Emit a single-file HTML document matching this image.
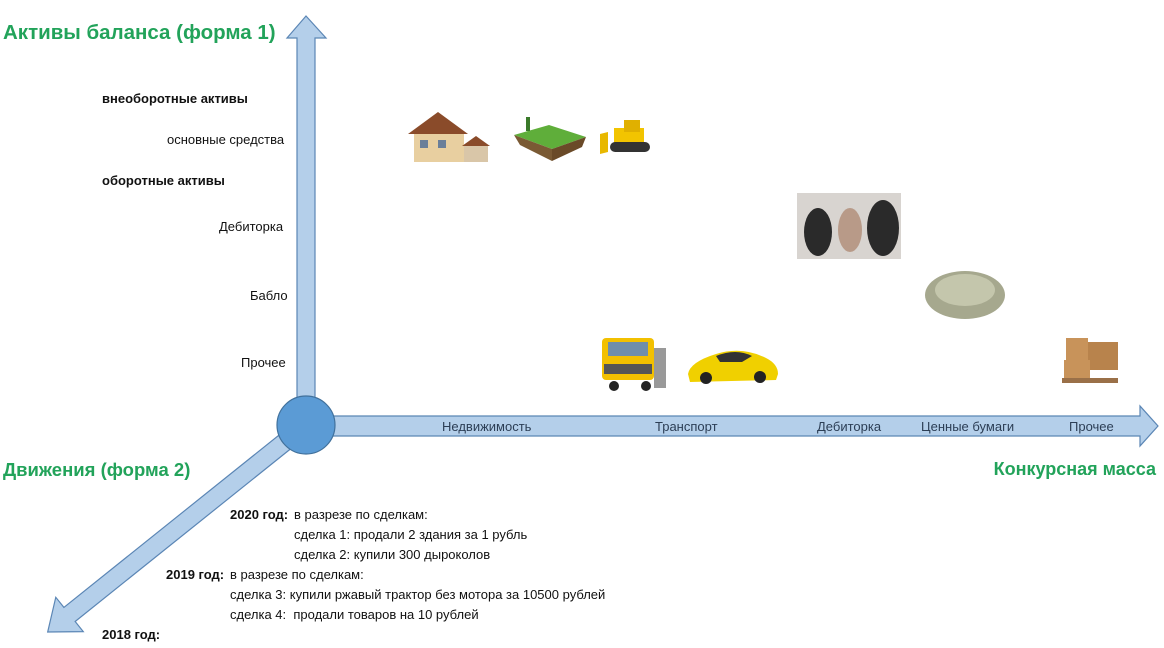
<!DOCTYPE html>
<html><head><meta charset="utf-8"><style>
html,body{margin:0;padding:0;background:#fff;}
body{width:1164px;height:648px;position:relative;overflow:hidden;font-family:"Liberation Sans","DejaVu Sans",sans-serif;}
.t{position:absolute;white-space:nowrap;font-size:13px;color:#111;}
.b{font-weight:bold;}
.g{position:absolute;white-space:nowrap;font-weight:bold;font-size:20px;color:#22a35a;}
.ax{position:absolute;white-space:nowrap;font-size:13px;color:#2c3e55;}
</style></head><body>
<svg width="1164" height="648" style="position:absolute;left:0;top:0">
<g fill="#b4cfea" stroke="#5b86b5" stroke-width="1.2">
<polygon points="297,420 297,38 287,38 306,16 326,38 315,38 315,420"/>
<polygon points="320,416 1140,416 1140,406 1158,426 1140,446 1140,436 320,436"/>
<g transform="translate(306,425) rotate(141.3)">
<polygon points="0,-9 303,-9 303,-22 331,0 303,22 303,9 0,9"/>
</g>
</g>
<circle cx="306" cy="425" r="29" fill="#5b9bd5" stroke="#41719c" stroke-width="1.2"/>
<g transform="translate(408,112)">
<polygon points="0,22 30,0 60,22" fill="#8a4b2a"/>
<rect x="6" y="22" width="50" height="28" fill="#e8cfa0"/>
<rect x="12" y="28" width="8" height="8" fill="#6a7f99"/><rect x="30" y="28" width="8" height="8" fill="#6a7f99"/>
<rect x="56" y="34" width="24" height="16" fill="#d9c6a8"/><polygon points="54,34 68,24 82,34" fill="#8a4b2a"/>
</g>
<g transform="translate(514,115)">
<polygon points="0,20 35,10 72,22 38,34" fill="#5fae3a"/>
<polygon points="0,20 38,34 38,46 6,30" fill="#7a5a34"/><polygon points="38,34 72,22 68,32 38,46" fill="#6a4a28"/>
<rect x="12" y="2" width="4" height="14" fill="#3a7a2a"/>
</g>
<g transform="translate(600,118)">
<rect x="14" y="10" width="30" height="16" fill="#f2c400"/><rect x="24" y="2" width="16" height="12" fill="#e0b000"/>
<rect x="10" y="24" width="40" height="10" rx="5" fill="#333"/>
<polygon points="0,16 8,14 8,34 0,36" fill="#e8b800"/>
</g>
<rect x="797" y="193" width="104" height="66" fill="#d8d4d0"/>
<ellipse cx="818" cy="232" rx="14" ry="24" fill="#2a2a2a"/><ellipse cx="883" cy="228" rx="16" ry="28" fill="#2a2a2a"/>
<ellipse cx="850" cy="230" rx="12" ry="22" fill="#b89a88"/>
<ellipse cx="965" cy="295" rx="40" ry="24" fill="#a6a88e"/><ellipse cx="965" cy="290" rx="30" ry="16" fill="#c4c6ac"/>
<rect x="1066" y="338" width="22" height="22" fill="#c8935a"/><rect x="1088" y="342" width="30" height="28" fill="#b8834c"/>
<rect x="1064" y="360" width="26" height="18" fill="#c8935a"/><rect x="1062" y="378" width="56" height="5" fill="#9a7048"/>
<g transform="translate(600,334)">
<rect x="2" y="4" width="52" height="42" rx="4" fill="#f2c000"/><rect x="8" y="8" width="40" height="14" fill="#6f8eaa"/>
<rect x="4" y="30" width="48" height="10" fill="#555"/><rect x="54" y="14" width="12" height="40" fill="#999"/>
<circle cx="14" cy="52" r="5" fill="#222"/><circle cx="46" cy="52" r="5" fill="#222"/>
</g>
<g transform="translate(686,344)">
<path d="M2,30 Q4,18 30,10 Q56,2 80,14 Q92,20 92,30 L90,36 L4,38 Z" fill="#f0d000"/>
<path d="M30,12 Q50,4 66,12 L56,18 L34,18 Z" fill="#333"/>
<circle cx="20" cy="34" r="6" fill="#222"/><circle cx="74" cy="33" r="6" fill="#222"/>
</g>
</svg>
<div class="g" style="left:3px;top:21px;font-size:20.5px">Активы баланса (форма 1)</div>
<div class="g" style="left:3px;top:459px;font-size:18.5px">Движения (форма 2)</div>
<div class="g" style="right:8px;top:459px;font-size:18px">Конкурсная масса</div>
<div class="t b" style="left:102px;top:91px">внеоборотные активы</div>
<div class="t" style="left:167px;top:132px">основные средства</div>
<div class="t b" style="left:102px;top:173px">оборотные активы</div>
<div class="t" style="left:219px;top:219px">Дебиторка</div>
<div class="t" style="left:250px;top:288px">Бабло</div>
<div class="t" style="left:241px;top:355px">Прочее</div>
<div class="ax" style="left:442px;top:419px">Недвижимость</div>
<div class="ax" style="left:655px;top:419px">Транспорт</div>
<div class="ax" style="left:817px;top:419px">Дебиторка</div>
<div class="ax" style="left:921px;top:419px">Ценные бумаги</div>
<div class="ax" style="left:1069px;top:419px">Прочее</div>
<div class="t b" style="left:230px;top:507px">2020 год:</div>
<div class="t" style="left:294px;top:507px">в разрезе по сделкам:</div>
<div class="t" style="left:294px;top:527px">сделка 1: продали 2 здания за 1 рубль</div>
<div class="t" style="left:294px;top:547px">сделка 2: купили 300 дыроколов</div>
<div class="t b" style="left:166px;top:567px">2019 год:</div>
<div class="t" style="left:230px;top:567px">в разрезе по сделкам:</div>
<div class="t" style="left:230px;top:587px">сделка 3: купили ржавый трактор без мотора за 10500 рублей</div>
<div class="t" style="left:230px;top:607px">сделка 4:&nbsp; продали товаров на 10 рублей</div>
<div class="t b" style="left:102px;top:627px">2018 год:</div>
</body></html>
